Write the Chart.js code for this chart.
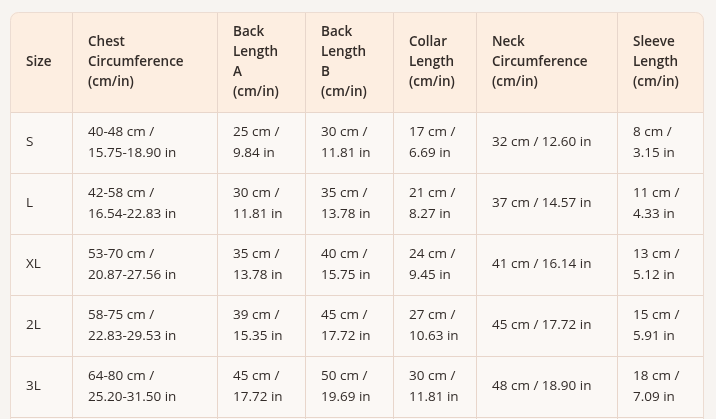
<!DOCTYPE html>
<html>
<head>
<meta charset="utf-8">
<script src="https://cdn.jsdelivr.net/npm/chart.js@4.4.1/dist/chart.umd.min.js"></script>
<style>
  html, body { margin: 0; padding: 0; background: #f7f4f1; }
  #wrap { width: 716px; height: 419px; }
</style>
</head>
<body>
<div id="wrap"><canvas id="table"></canvas></div>
<script>
const headers = [
  ["Size"],
  ["Chest", "Circumference", "(cm/in)"],
  ["Back", "Length", "A", "(cm/in)"],
  ["Back", "Length", "B", "(cm/in)"],
  ["Collar", "Length", "(cm/in)"],
  ["Neck", "Circumference", "(cm/in)"],
  ["Sleeve", "Length", "(cm/in)"]
];
const sizes = ["S", "L", "XL", "2L", "3L", ""];
const chest = [["40-48 cm /", "15.75-18.90 in"], ["42-58 cm /", "16.54-22.83 in"], ["53-70 cm /", "20.87-27.56 in"], ["58-75 cm /", "22.83-29.53 in"], ["64-80 cm /", "25.20-31.50 in"], []];
const backA = [["25 cm /", "9.84 in"], ["30 cm /", "11.81 in"], ["35 cm /", "13.78 in"], ["39 cm /", "15.35 in"], ["45 cm /", "17.72 in"], []];
const backB = [["30 cm /", "11.81 in"], ["35 cm /", "13.78 in"], ["40 cm /", "15.75 in"], ["45 cm /", "17.72 in"], ["50 cm /", "19.69 in"], []];
const collar = [["17 cm /", "6.69 in"], ["21 cm /", "8.27 in"], ["24 cm /", "9.45 in"], ["27 cm /", "10.63 in"], ["30 cm /", "11.81 in"], []];
const neck = [["32 cm / 12.60 in"], ["37 cm / 14.57 in"], ["41 cm / 16.14 in"], ["45 cm / 17.72 in"], ["48 cm / 18.90 in"], []];
const sleeve = [["8 cm /", "3.15 in"], ["11 cm /", "4.33 in"], ["13 cm /", "5.12 in"], ["15 cm /", "5.91 in"], ["18 cm /", "7.09 in"], []];

const columns = [sizes.map(s => [s]), chest, backA, backB, collar, neck, sleeve];

// layout (in scale units = px)
const colWidths = [62, 145, 88, 88, 83, 141, 87];
const headerH = 100, rowH = 61;
const colEdges = [0];
colWidths.forEach(w => colEdges.push(colEdges[colEdges.length - 1] + w));
const rowEdges = [0, headerH];
sizes.forEach(() => rowEdges.push(rowEdges[rowEdges.length - 1] + rowH));

const tablePlugin = {
  id: "tablePlugin",
  afterDraw(chart) {
    const { ctx, scales: { x, y } } = chart;
    const X = v => x.getPixelForValue(v);
    const Y = v => y.getPixelForValue(v);
    const left = X(0), right = X(colEdges[colEdges.length - 1]);
    const top = Y(0), bottom = Y(rowEdges[rowEdges.length - 1]);
    ctx.save();
    ctx.beginPath();
    ctx.roundRect(left, top, right - left, bottom - top, [8, 8, 0, 0]);
    ctx.fillStyle = "#fbf8f5";
    ctx.fill();
    ctx.save();
    ctx.clip();
    ctx.fillStyle = "#fdeee1";
    ctx.fillRect(left, top, right - left, Y(headerH) - top);
    ctx.restore();
    ctx.strokeStyle = "#e8d6cb";
    ctx.lineWidth = 1;
    colEdges.slice(1, -1).forEach(c => {
      ctx.beginPath();
      ctx.moveTo(Math.round(X(c)) + 0.5, top);
      ctx.lineTo(Math.round(X(c)) + 0.5, bottom);
      ctx.stroke();
    });
    rowEdges.slice(1, -1).forEach(r => {
      ctx.beginPath();
      ctx.moveTo(left, Math.round(Y(r)) + 0.5);
      ctx.lineTo(right, Math.round(Y(r)) + 0.5);
      ctx.stroke();
    });
    ctx.beginPath();
    ctx.roundRect(left + 0.5, top + 0.5, right - left - 1, bottom - top, [8, 8, 0, 0]);
    ctx.strokeStyle = "#ecdcd2";
    ctx.stroke();
    ctx.fillStyle = "#332c29";
    ctx.textBaseline = "middle";
    ctx.textAlign = "left";
    const drawLines = (lines, c, r0, r1, lh) => {
      const cy = (Y(r0) + Y(r1)) / 2;
      const x0 = X(colEdges[c]) + 16;
      lines.forEach((t, i) => {
        ctx.fillText(t, x0, cy + (i - (lines.length - 1) / 2) * lh);
      });
    };
    ctx.font = "600 13.5px 'Open Sans'";
    headers.forEach((h, c) => drawLines(h, c, 0, headerH, 20));
    ctx.font = "13.5px 'Open Sans'";
    columns.forEach((col, c) => {
      col.forEach((lines, r) => drawLines(lines, c, rowEdges[r + 1], rowEdges[r + 2], 21));
    });
    ctx.restore();
  }
};

new Chart(document.getElementById("table"), {
  type: "scatter",
  data: { datasets: [{ data: [] }] },
  options: {
    responsive: true,
    maintainAspectRatio: false,
    animation: false,
    layout: { padding: { left: 10, right: 12, top: 12, bottom: 0 } },
    plugins: { legend: { display: false }, tooltip: { enabled: false } },
    scales: {
      x: { type: "linear", display: false, min: 0, max: colEdges[colEdges.length - 1] },
      y: { type: "linear", display: false, reverse: true, min: 0, max: 407 }
    }
  },
  plugins: [tablePlugin]
});
</script>
</body>
</html>
